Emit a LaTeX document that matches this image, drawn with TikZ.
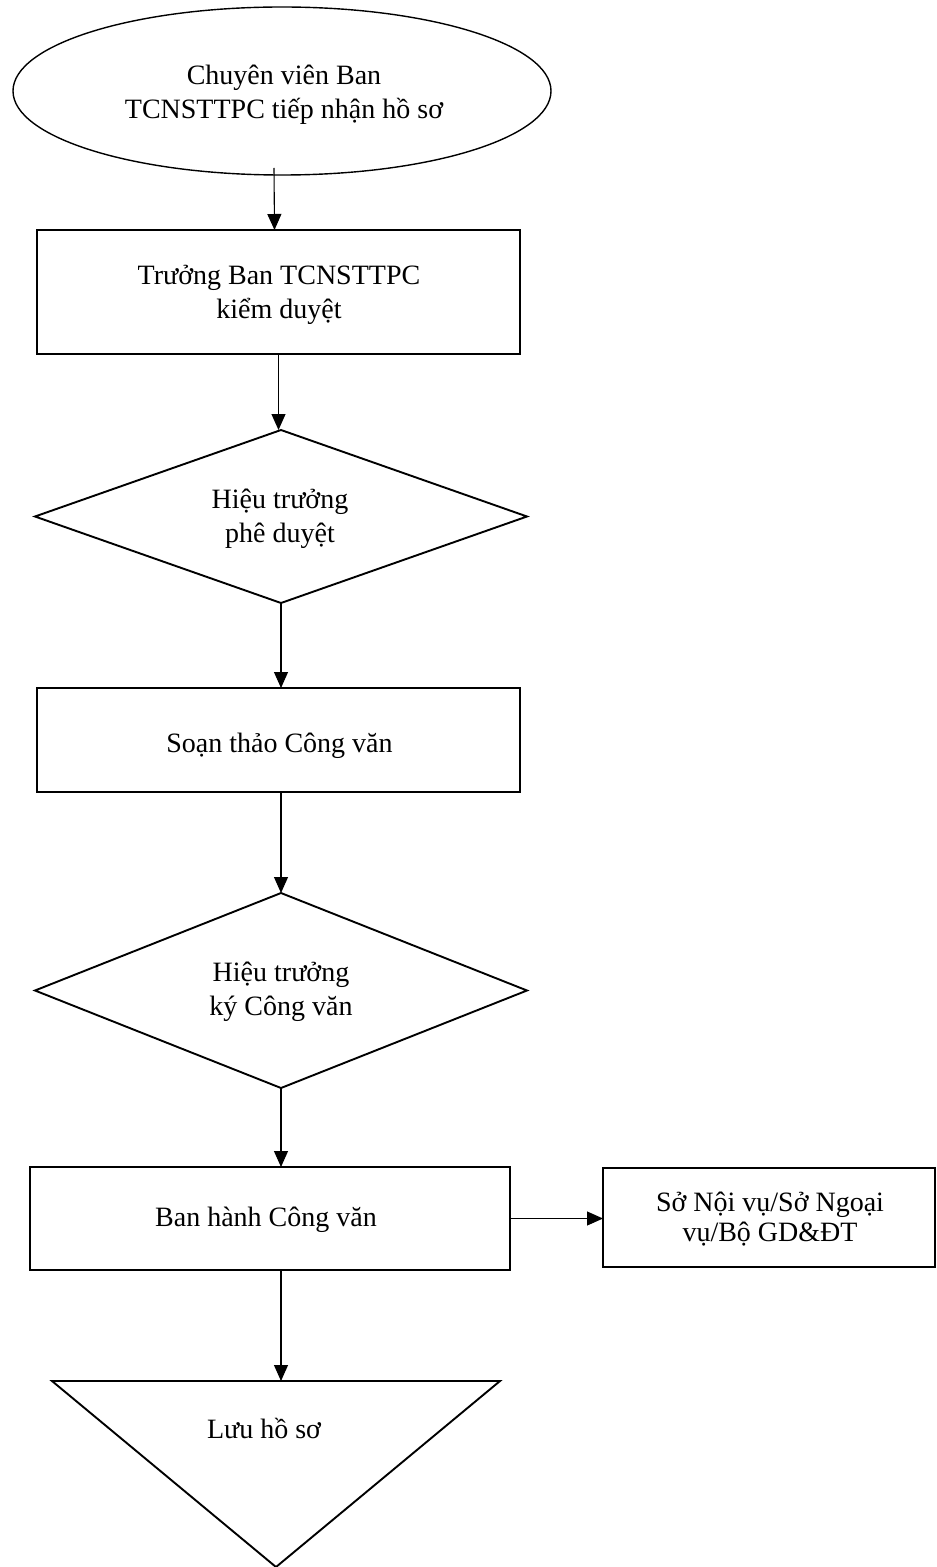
\documentclass[tikz,border=0pt]{standalone}
\usepackage{fontspec}
\setmainfont{Liberation Serif}
\usetikzlibrary{shapes.geometric,arrows.meta,calc}
\tikzset{
  shapeline/.style={draw=black, line width=0.95pt, inner sep=0pt, outer sep=0pt},
  boxnode/.style={shapeline, rectangle},
  diamnode/.style={shapeline, diamond},
  ellnode/.style={draw=black, line width=0.7pt, ellipse, inner sep=0pt, outer sep=0pt},
  txt/.style={inner sep=0pt, align=center, font=\fontsize{14}{16.8}\selectfont},
  arr/.style={draw=black, line width=0.55pt, -{Triangle[length=8pt,width=7pt]}},
}
\begin{document}
\begin{tikzpicture}[x=0.5pt,y=-0.5pt]
\useasboundingbox (0,0) rectangle (936,1567);
% shapes
\node[ellnode, minimum width=269pt, minimum height=84pt] (ell) at (282,91) {};
\node[boxnode, minimum width=241.5pt, minimum height=62pt] (r1) at (278.5,292) {};
\node[diamnode, minimum width=246pt, minimum height=86.5pt] (d1) at (281,516.5) {};
\node[boxnode, minimum width=241.5pt, minimum height=52pt] (r2) at (278.5,740) {};
\node[diamnode, minimum width=246pt, minimum height=97.5pt] (d2) at (281,990.5) {};
\node[boxnode, minimum width=240pt, minimum height=51.5pt] (r3) at (270,1218.5) {};
\node[boxnode, minimum width=166pt, minimum height=49.5pt] (r4) at (769,1217.5) {};
\draw[line width=0.95pt, line join=miter] (52,1381) -- (500,1381) -- (276,1567) -- cycle;
\coordinate (tritop) at (281,1381);
% texts
\node[txt] (tell) at (284,95) {Chuyên viên Ban\\TCNSTTPC tiếp nhận hồ sơ};
\node[txt] (tr1) at (279,295) {Trưởng Ban TCNSTTPC\\kiểm duyệt};
\node[txt] (td1) at (280,519) {Hiệu trưởng\\phê duyệt};
\node[txt, anchor=base] (tr2) at (279.5,752) {Soạn thảo Công văn};
\node[txt] (td2) at (281,992) {Hiệu trưởng\\ký Công văn};
\node[txt, anchor=base] (tr3) at (266,1226) {Ban hành Công văn};
\node[txt, font=\fontsize{14}{15}\selectfont] (tr4) at (770,1219) {Sở Nội vụ/Sở Ngoại\\vụ/Bộ GD\&ĐT};
\node[txt, anchor=base] (ttri) at (264,1438) {Lưu hồ sơ};
% connectors
\draw[arr] ([xshift=-4pt,yshift=3.5pt]ell.south) -- ([xshift=-2pt]r1.north);
\draw[arr] (r1.south) -- (r1.south |- d1.north);
\draw[arr] (d1.south) -- (d1.south |- r2.north);
\draw[arr] (d2.north |- r2.south) -- (d2.north);
\draw[arr] (d2.south) -- (d2.south |- r3.north);
\draw[arr] (r3.south -| tritop) -- (tritop);
\draw[arr] (r3.east) -- (r3.east -| r4.west);
\end{tikzpicture}
\end{document}
